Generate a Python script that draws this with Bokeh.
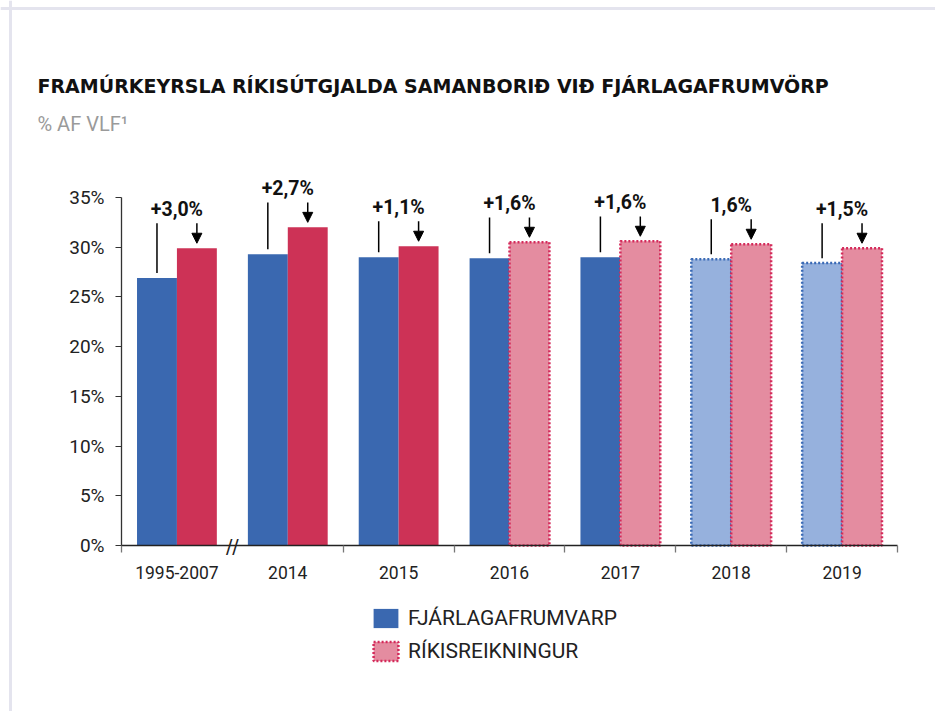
from bokeh.plotting import figure
from bokeh.models import (ColumnDataSource, Range1d, FixedTicker, Label, Arrow,
                          NormalHead, Legend, LegendItem, Span)
from bokeh.core.properties import value
from bokeh.embed import file_html
from bokeh.resources import INLINE

# ---------------- data ----------------
categories = ["1995-2007", "2014", "2015", "2016", "2017", "2018", "2019"]
budget = [26.9, 29.3, 29.0, 28.9, 29.0, 28.8, 28.4]        # FJÁRLAGAFRUMVARP
outturn = [29.9, 32.0, 30.1, 30.5, 30.6, 30.3, 29.9]       # RÍKISREIKNINGUR
overrun_labels = ["+3,0%", "+2,7%", "+1,1%", "+1,6%", "+1,6%", "1,6%", "+1,5%"]
budget_estimate = [False, False, False, False, False, True, True]
outturn_estimate = [False, False, False, True, True, True, True]
y_ticks = [0, 5, 10, 15, 20, 25, 30, 35]
y_tick_labels = ["0%", "5%", "10%", "15%", "20%", "25%", "30%", "35%"]

title_text = "FRAMÚRKEYRSLA RÍKISÚTGJALDA SAMANBORIÐ VIÐ FJÁRLAGAFRUMVÖRP"
subtitle_text = "% AF VLF¹"
legend_labels = ["FJÁRLAGAFRUMVARP", "RÍKISREIKNINGUR"]

# ---------------- style / layout ----------------
BLUE = "#3a68b0"
BLUE_LIGHT = "#96b1dd"
BLUE_DOT = "#3a6ab5"
RED = "#cd3256"
PINK = "#e48ca0"
RED_DOT = "#d42a5a"
BAR_W = 0.36
FONT = "Roboto"

W, H = 935, 711
PLOT_L, PLOT_R = 121, 897          # pixel span of the category axis
PLOT_B, PLOT_T35 = 545, 197        # pixel of 0% and 35%
n = len(categories)
px_x = (PLOT_R - PLOT_L) / n
px_y = (PLOT_B - PLOT_T35) / 35.0
x0 = -0.5 - PLOT_L / px_x
x1 = n - 0.5 + (W - PLOT_R) / px_x
y0 = -(H - PLOT_B) / px_y
y1 = PLOT_B / px_y

idx = list(range(n))

p = figure(width=W, height=H, output_backend="svg", toolbar_location=None,
           x_range=Range1d(x0, x1), y_range=Range1d(y0, y1),
           min_border=0, background_fill_color="white",
           border_fill_color="white")
p.outline_line_color = None
p.grid.visible = False

# page frame (top and left light rule)
p.add_layout(Span(location=y1 - 8 / px_y, dimension="width",
                  line_color="#e4e4ee", line_width=3))
p.add_layout(Span(location=x0 + 10 / px_x, dimension="height",
                  line_color="#e4e4ee", line_width=3))


def subset(flags, want, values):
    xs = [i for i, f in zip(idx, flags) if f == want]
    vs = [v for v, f in zip(values, flags) if f == want]
    return xs, vs


# blue bars
bx, bv = subset(budget_estimate, False, budget)
r_blue = p.vbar(x=[x - BAR_W / 2 for x in bx], top=bv, width=BAR_W, bottom=0,
                fill_color=BLUE, line_color=None)
bx, bv = subset(budget_estimate, True, budget)
r_blue_e = p.vbar(x=[x - BAR_W / 2 for x in bx], top=bv, width=BAR_W, bottom=0,
                  fill_color=BLUE_LIGHT, line_color=BLUE_DOT, line_width=2.5,
                  line_dash="2 2")
# red bars
rx, rv = subset(outturn_estimate, False, outturn)
r_red = p.vbar(x=[x + BAR_W / 2 for x in rx], top=rv, width=BAR_W, bottom=0,
               fill_color=RED, line_color=None)
rx, rv = subset(outturn_estimate, True, outturn)
r_red_e = p.vbar(x=[x + BAR_W / 2 for x in rx], top=rv, width=BAR_W, bottom=0,
                 fill_color=PINK, line_color=RED_DOT, line_width=2.5,
                 line_dash="2 2")

# annotation lines / arrows
top_off = 2.5
gap = 0.5
ann = ColumnDataSource(dict(
    xb=[i - BAR_W / 2 for i in idx],
    xr=[i + BAR_W / 2 for i in idx],
    xc=idx,
    yb=[b + gap for b in budget],
    yr=[r + gap for r in outturn],
    ytop=[r + top_off for r in outturn],
    ylab=[r + top_off + 1.4 for r in outturn],
    lab=overrun_labels,
))
p.segment(x0="xb", y0="yb", x1="xb", y1="ytop", source=ann,
          line_color="black", line_width=1.5)
p.add_layout(Arrow(end=NormalHead(size=10, fill_color="black", line_color="black"),
                   x_start="xr", y_start="ytop", x_end="xr", y_end="yr",
                   source=ann, line_color="black", line_width=1.5))
p.text(x="xc", y="ylab", text="lab", source=ann, text_align="center",
       text_baseline="middle", text_font=value(FONT),
       text_font_style="bold", text_font_size="19.5px", text_color="#111111")

# axes (drawn inside the full-canvas frame)
p.yaxis.fixed_location = -0.5
p.yaxis.ticker = FixedTicker(ticks=y_ticks)
p.yaxis.major_label_overrides = {t: l for t, l in zip(y_ticks, y_tick_labels)}
p.yaxis.bounds = (0, 35)
p.yaxis.minor_tick_line_color = None
p.yaxis.major_tick_out = 6
p.yaxis.major_tick_in = 0
p.yaxis.major_label_standoff = 11
p.yaxis.major_label_text_font = FONT
p.yaxis.major_label_text_font_size = "19px"
p.yaxis.major_label_text_color = "#222222"
p.yaxis.axis_line_color = "#333333"
p.yaxis.axis_line_width = 1.3
p.yaxis.major_tick_line_color = "#333333"

boundaries = [-0.5] + [i + 0.5 for i in idx[1:]]
p.xaxis.fixed_location = 0
p.xaxis.bounds = (-0.5, n - 0.5)
p.xaxis.ticker = FixedTicker(ticks=idx, minor_ticks=boundaries)
p.xaxis.major_label_overrides = {i: c for i, c in zip(idx, categories)}
p.xaxis.major_tick_out = 0
p.xaxis.major_tick_in = 0
p.xaxis.minor_tick_out = 7
p.xaxis.minor_tick_in = 0
p.xaxis.minor_tick_line_color = "#777777"
p.xaxis.minor_tick_line_width = 1.3
p.xaxis.major_label_standoff = 13
p.xaxis.major_label_text_font = FONT
p.xaxis.major_label_text_font_size = "17.5px"
p.xaxis.major_label_text_color = "#222222"
p.xaxis.axis_line_color = "#222222"
p.xaxis.axis_line_width = 1.3

# axis break mark between first and second category
p.add_layout(Label(x=0.5, y=0, text="//", text_align="center",
                   text_baseline="middle", text_font="DejaVu Sans",
                   text_font_size="19px", text_color="#222222"))

# titles (screen units measured up from the canvas bottom)
p.add_layout(Label(x=37, y=H - 85, x_units="screen", y_units="screen",
                   text=title_text, text_font="DejaVu Sans",
                   text_font_style="bold", text_font_size="19px",
                   text_baseline="middle", text_color="#111111"))
p.add_layout(Label(x=37, y=H - 123, x_units="screen", y_units="screen",
                   text=subtitle_text, text_font=FONT,
                   text_font_size="20px", text_baseline="middle",
                   text_color="#9a9a9a"))

# legend
legend = Legend(items=[LegendItem(label=legend_labels[0], renderers=[r_blue]),
                       LegendItem(label=legend_labels[1], renderers=[r_red_e])],
                location=(370, H - 663), orientation="vertical",
                glyph_width=31, glyph_height=24, label_height=24,
                label_standoff=7, spacing=9, padding=0, margin=0,
                border_line_color=None, background_fill_alpha=0,
                label_text_font=FONT, label_text_font_size="21px",
                label_text_color="#222222")
p.add_layout(legend, "center")

open("out.html", "w").write(file_html(p, INLINE))
